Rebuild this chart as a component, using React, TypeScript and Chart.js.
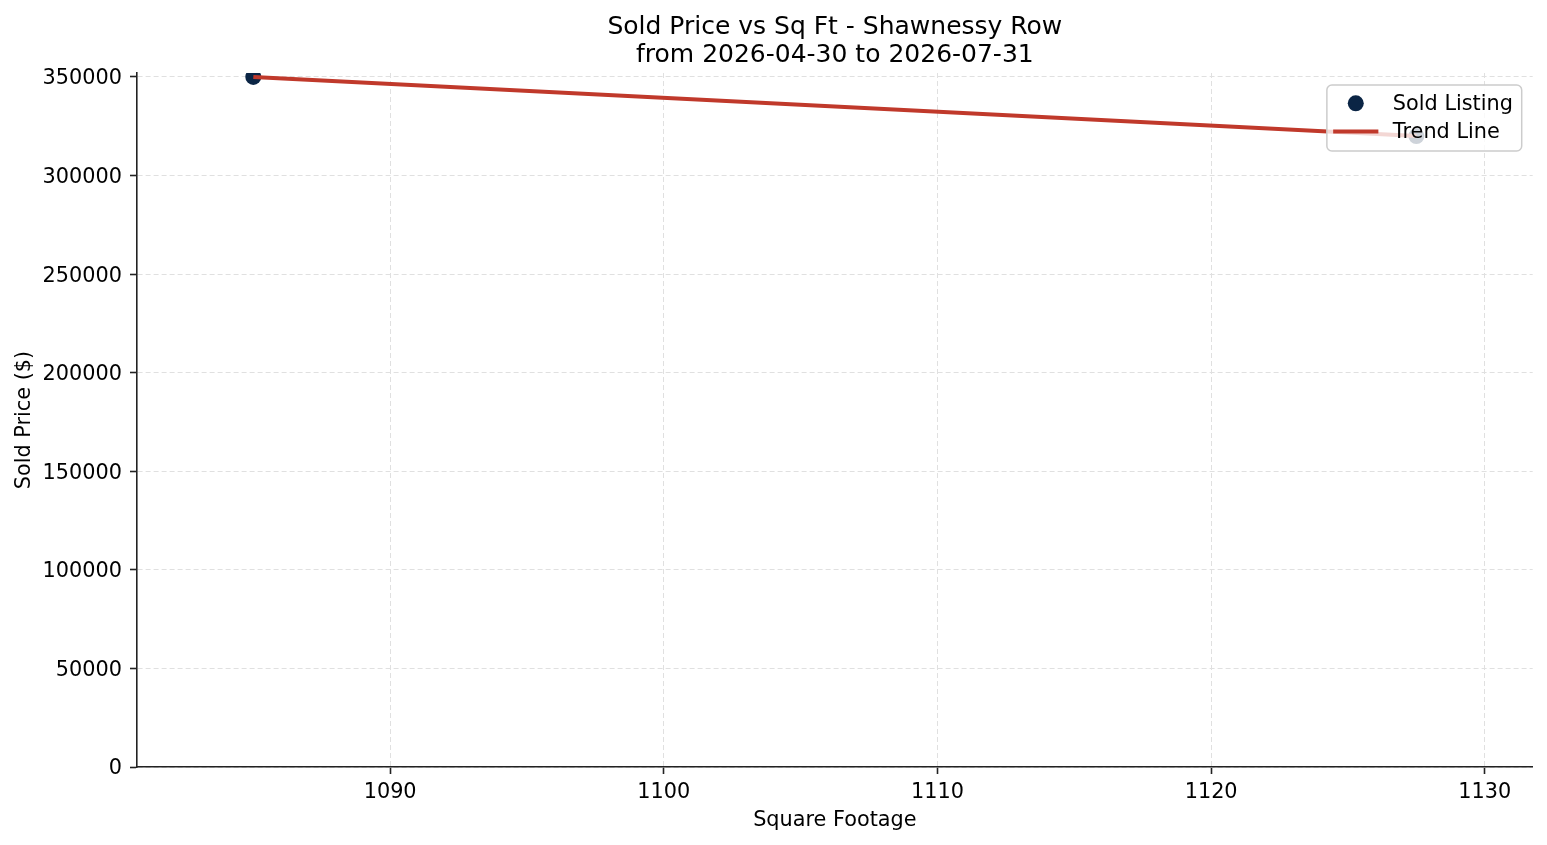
import { useEffect, useRef } from "react"
import { Chart, registerables } from "chart.js"

Chart.register(...registerables)

// Données du graphique
const titleLines = ["Sold Price vs Sq Ft - Shawnessy Row", "from 2026-04-30 to 2026-07-31"]
const listingSqFt = [1085, 1127.5]
const listingPrice = [350000, 320000]
const trendSqFt = [1085, 1127.5]
const trendPrice = [350000, 320000]
const xTickValues = [1090, 1100, 1110, 1120, 1130]
const yTickValues = [0, 50000, 100000, 150000, 200000, 250000, 300000, 350000]
const xLimits = [1080.75, 1131.75]
const yLimits = [0, 352000]

const FONT = "'DejaVu Sans', sans-serif"
const NAVY = "#0b2545"
const RED = "#c0392b"

// Titre centré sur la zone du graphique (comme matplotlib)
const titlePlugin = {
  id: "axesTitle",
  afterDraw(chart: Chart) {
    const { ctx, chartArea } = chart
    const cx = (chartArea.left + chartArea.right) / 2
    ctx.save()
    ctx.font = `25px ${FONT}`
    ctx.fillStyle = "#000"
    ctx.textAlign = "center"
    ctx.textBaseline = "middle"
    titleLines.forEach((line, i) => ctx.fillText(line, cx, 27 + i * 28.5))
    ctx.restore()
  },
}

// Légende dans le coin supérieur droit
const legendPlugin = {
  id: "cornerLegend",
  afterDraw(chart: Chart) {
    const { ctx, chartArea } = chart
    const labels = [chart.data.datasets[1].label as string, chart.data.datasets[0].label as string]
    ctx.save()
    ctx.font = `20.8px ${FONT}`
    const textW = Math.max(...labels.map((l) => ctx.measureText(l).width))
    const w = 8.3 + 41.6 + 16.6 + textW + 8.3
    const h = 66
    const right = chartArea.right - 11
    const left = right - w
    const top = chartArea.top + 12

    ctx.beginPath()
    ctx.roundRect(left, top, w, h, 5)
    ctx.fillStyle = "rgba(255,255,255,0.8)"
    ctx.fill()
    ctx.lineWidth = 1.5
    ctx.strokeStyle = "#cccccc"
    ctx.stroke()

    const hx1 = left + 6.3
    const hx2 = left + 51.5
    const row1 = top + 18.3
    const row2 = top + 46.5

    ctx.beginPath()
    ctx.arc((hx1 + hx2) / 2, row1, 8, 0, Math.PI * 2)
    ctx.fillStyle = NAVY
    ctx.fill()

    ctx.beginPath()
    ctx.moveTo(hx1, row2)
    ctx.lineTo(hx2, row2)
    ctx.lineWidth = 4
    ctx.strokeStyle = RED
    ctx.stroke()

    ctx.fillStyle = "#000"
    ctx.textAlign = "left"
    ctx.textBaseline = "middle"
    ctx.fillText(labels[0], left + 66, row1 + 1)
    ctx.fillText(labels[1], left + 66, row2 + 1.5)
    ctx.restore()
  },
}

export default function App() {
  const chartRef = useRef<HTMLCanvasElement>(null)
  const chartInstance = useRef<Chart | null>(null)

  useEffect(() => {
    if (!chartRef.current) return
    if (chartInstance.current) chartInstance.current.destroy()
    const ctx = chartRef.current.getContext("2d")
    if (!ctx) return

    Chart.defaults.font.family = FONT

    chartInstance.current = new Chart(ctx, {
      type: "scatter",
      data: {
        datasets: [
          {
            type: "line",
            label: "Trend Line",
            data: trendSqFt.map((x, i) => ({ x, y: trendPrice[i] })),
            borderColor: RED,
            backgroundColor: RED,
            borderWidth: 4,
            pointRadius: 0,
            fill: false,
            order: 0,
            clip: 0,
          },
          {
            type: "scatter",
            label: "Sold Listing",
            data: listingSqFt.map((x, i) => ({ x, y: listingPrice[i] })),
            backgroundColor: NAVY,
            borderColor: NAVY,
            borderWidth: 0,
            pointRadius: 8,
            pointHoverRadius: 8,
            order: 1,
            clip: 0,
          },
        ],
      },
      options: {
        responsive: true,
        maintainAspectRatio: false,
        animation: false,
        layout: { padding: { top: 73, right: 14.3, bottom: 0, left: 0 } },
        plugins: {
          legend: { display: false },
          title: { display: false },
          tooltip: { enabled: false },
        },
        scales: {
          x: {
            type: "linear",
            min: xLimits[0],
            max: xLimits[1],
            afterBuildTicks: (scale) => {
              scale.ticks = xTickValues.map((value) => ({ value }))
            },
            afterFit: (scale) => {
              scale.height = 78
            },
            ticks: {
              color: "#000",
              padding: 6,
              maxRotation: 0,
              font: { size: 20.8 },
              callback: (v) => String(v),
            },
            grid: {
              color: "#e0e0e0",
              lineWidth: 1,
              tickColor: "#222",
              tickLength: 7,
              tickWidth: 1.6,
            },
            border: { color: "#222", width: 1.6, dash: [5, 3] },
            title: {
              display: true,
              text: "Square Footage",
              color: "#000",
              font: { size: 20.8 },
              padding: { top: 0, bottom: 11.5 },
            },
          },
          y: {
            type: "linear",
            min: yLimits[0],
            max: yLimits[1],
            afterBuildTicks: (scale) => {
              scale.ticks = yTickValues.map((value) => ({ value }))
            },
            afterFit: (scale) => {
              scale.width = 137
            },
            ticks: {
              color: "#000",
              padding: 8,
              labelOffset: 2,
              font: { size: 20.8 },
              callback: (v) => String(v),
            },
            grid: {
              color: "#e0e0e0",
              lineWidth: 1,
              tickColor: "#222",
              tickLength: 7,
              tickWidth: 1.6,
            },
            border: { color: "#222", width: 1.6, dash: [5, 3] },
            title: {
              display: true,
              text: "Sold Price ($)",
              color: "#000",
              font: { size: 20.8 },
              padding: { top: 12, bottom: 0 },
            },
          },
        },
      },
      plugins: [titlePlugin, legendPlugin],
    })

    return () => {
      if (chartInstance.current) {
        chartInstance.current.destroy()
        chartInstance.current = null
      }
    }
  }, [])

  return (
    <div style={{ position: "fixed", left: 0, top: 0, width: 1547, height: 845, background: "#fff" }}>
      <canvas ref={chartRef}></canvas>
    </div>
  )
}
